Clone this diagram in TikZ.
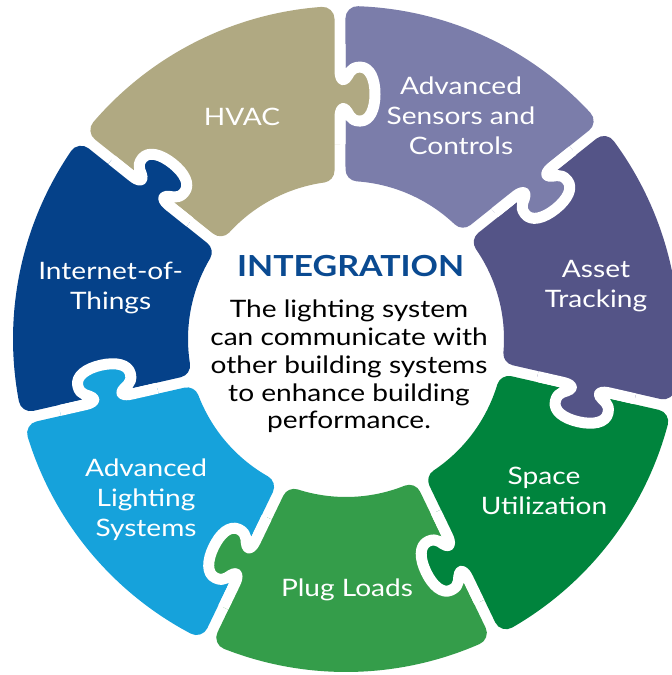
\documentclass[tikz,border=0pt]{standalone}
\usepackage{fontspec}
\setmainfont{Lato}[FakeStretch=1.17]
\definecolor{csens}{RGB}{123,125,170}
\definecolor{casset}{RGB}{84,84,135}
\definecolor{cspace}{RGB}{0,132,61}
\definecolor{cplug}{RGB}{52,157,74}
\definecolor{clight}{RGB}{22,162,219}
\definecolor{cinet}{RGB}{5,65,137}
\definecolor{chvac}{RGB}{176,169,130}
\definecolor{cintg}{RGB}{10,74,145}
\begin{document}
\begin{tikzpicture}[x=1pt,y=1pt,
  lbl/.style={text=white, align=center, inner sep=0pt, font=\fontsize{24}{30}\selectfont},
  bodytext/.style={text=black, align=center, inner sep=0pt, font=\fontsize{24}{27.8}\selectfont},
  titletext/.style={text=cintg, inner sep=0pt, font=\fontsize{29}{32}\selectfont\bfseries}]
\fill[white] (0,0) rectangle (672,675);
\useasboundingbox (0,0) rectangle (672,675);
\begin{scope}[shift={(346,336)}]
  % piece bodies (inset path + fat stroke of same colour = rounded corners)
  \foreach \k/\col in {0/csens,1/casset,2/cspace,3/cplug,4/clight,5/cinet,6/chvac} {
    \pgfmathsetmacro\angA{90-\k*360/7}
    \pgfmathsetmacro\angC{\angA-360/7}
    \pgfmathsetmacro\aO{\angA-asin(11.5/321)}
    \pgfmathsetmacro\aI{\angA-asin(11.5/170)}
    \pgfmathsetmacro\cO{\angC+asin(23.5/321)}
    \pgfmathsetmacro\cI{\angC+asin(23.5/170)}
    \filldraw[\col, line width=24pt, line join=round]
      (\aI:170) -- (\aO:321) arc[start angle=\aO, end angle=\cO, radius=321]
      -- (\cI:170) arc[start angle=\cI, end angle=\aI, radius=170] -- cycle;
  }
  % knobs: each boundary carries a tab from the counter-clockwise piece into the clockwise one
  \foreach \k/\gv in {0/chvac,1/csens,2/casset,3/cspace,4/cplug,5/clight,6/cinet} {
    \pgfmathsetmacro\bb{90-\k*360/7}
    \pgfmathsetmacro\bt{\bb+asin(6/245)}
    \begin{scope}[shift={(\bt:245)}, rotate=\bb, yscale=-1]
      \fill[\gv] (-50,-8) -- (-50,0) -- (-24,0)
        .. controls (-16,0) and (-13,2) .. (-15,5)
        .. controls (-18,9) and (-27,9) .. (-27,20)
        .. controls (-27,30) and (-15,35) .. (0,35)
        .. controls (15,35) and (27,30) .. (27,20)
        .. controls (27,9) and (18,9) .. (15,5)
        .. controls (13,2) and (16,0) .. (24,0)
        -- (50,0) -- (50,-8) -- cycle;
      \draw[white, line width=11pt, line join=round] (-50,0) -- (-24,0)
        .. controls (-16,0) and (-13,2) .. (-15,5)
        .. controls (-18,9) and (-27,9) .. (-27,20)
        .. controls (-27,30) and (-15,35) .. (0,35)
        .. controls (15,35) and (27,30) .. (27,20)
        .. controls (27,9) and (18,9) .. (15,5)
        .. controls (13,2) and (16,0) .. (24,0)
        -- (50,0);
    \end{scope}
  }
\end{scope}
% labels
\node[lbl] (hvac) at (242,558) {HVAC};
\node[lbl] (sens) at (461,559.5) {Advanced\\Sensors and\\Controls};
\node[lbl] (asset) at (596,388.5) {Asset\\Tracking};
\node[lbl] (space) at (544,184) {Space\\Utilization};
\node[lbl] (plug) at (347,85.5) {Plug Loads};
\node[lbl] (light) at (146,175) {Advanced\\Lighting\\Systems};
\node[lbl] (inet) at (110.6,387.5) {Internet-of-\\Things};
\node[titletext] (title) at (350.6,409) {INTEGRATION};
\node[bodytext] (desc) at (349,308.5) {The lighting system\\can communicate with\\other building systems\\to enhance building\\performance.};
\end{tikzpicture}
\end{document}
